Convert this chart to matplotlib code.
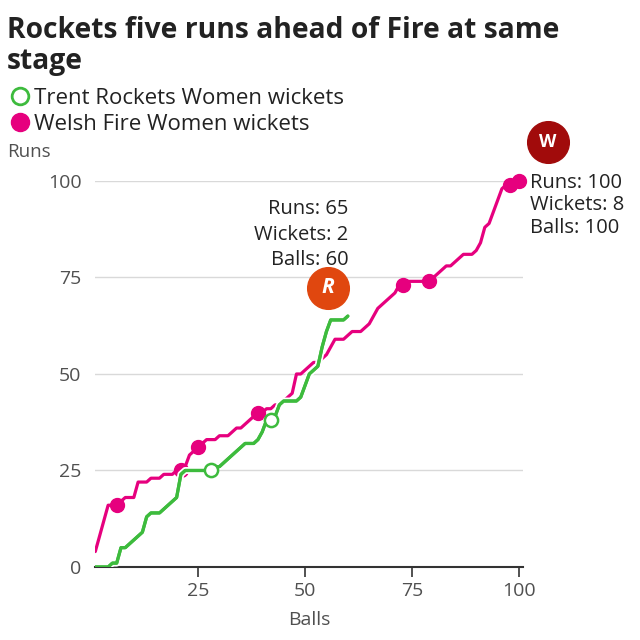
import matplotlib.pyplot as plt
import matplotlib.patheffects as pe
import numpy as np

# Welsh Fire Women innings, cumulative runs per ball
fire_balls = np.arange(1, 101)
fire_runs = [4, 8, 12, 16, 16, 16, 17, 18, 18, 18,
             22, 22, 22, 23, 23, 23, 24, 24, 24, 25,
             25, 26, 29, 30, 31, 32, 33, 33, 33, 34,
             34, 34, 35, 36, 36, 37, 38, 39, 40, 40,
             41, 41, 42, 42, 43, 44, 45, 50, 50, 51,
             52, 53, 53, 54, 55, 57, 59, 59, 59, 60,
             61, 61, 61, 62, 63, 65, 67, 68, 69, 70,
             71, 73, 73, 74, 74, 74, 74, 74, 74, 75,
             76, 77, 78, 78, 79, 80, 81, 81, 81, 82,
             84, 88, 89, 92, 95, 98, 99, 99, 100, 100]
fire_wkt_balls = [6, 21, 25, 39, 73, 79, 98, 100]

# Trent Rockets Women innings so far
rockets_balls = np.arange(1, 61)
rockets_runs = [0, 0, 0, 0, 1, 1, 5, 5, 6, 7,
                8, 9, 13, 14, 14, 14, 15, 16, 17, 18,
                24, 25, 25, 25, 25, 25, 25, 25, 26, 26,
                27, 28, 29, 30, 31, 32, 32, 32, 33, 35,
                38, 38, 39, 42, 43, 43, 43, 43, 44, 47,
                50, 51, 52, 57, 61, 64, 64, 64, 64, 65]
rockets_wkt_balls = [28, 42]

pink = '#e6007e'
green = '#3dbb3d'
grey = '#505050'

fire_wkt_runs = [fire_runs[b - 1] for b in fire_wkt_balls]
rockets_wkt_runs = [rockets_runs[b - 1] for b in rockets_wkt_balls]

plt.rcParams['font.family'] = ['Open Sans', 'DejaVu Sans']

fig = plt.figure(figsize=(6.4, 6.4), dpi=100)
ax = fig.add_axes([0.1489, 0.1141, 0.6688, 0.6031])

ax.plot(fire_balls, fire_runs, color=pink, lw=2.3, zorder=3, solid_capstyle='round')
ax.plot(fire_wkt_balls, fire_wkt_runs, 'o', color=pink, ms=10, zorder=4, clip_on=False)
ax.plot(rockets_balls, rockets_runs, color=green, lw=2.3, zorder=5, solid_capstyle='round',
        path_effects=[pe.withStroke(linewidth=5, foreground='white'), pe.Normal()])
ax.plot(rockets_wkt_balls, rockets_wkt_runs, 'o', mfc='white', mec=green, mew=1.8,
        ms=9.5, zorder=6)

ax.set_xlim(1, 101)
ax.set_ylim(0, 100)
ax.set_xticks([25, 50, 75, 100])
ax.set_yticks([0, 25, 50, 75, 100])
ax.grid(axis='y', color='#d9d9d9', lw=1)
ax.set_axisbelow(True)
for s in ['top', 'right', 'left']:
    ax.spines[s].set_visible(False)
ax.spines['bottom'].set_color('#333333')
ax.spines['bottom'].set_linewidth(1.5)
ax.tick_params(axis='x', length=7, width=1.2, color='#333333', labelsize=14,
               labelcolor=grey, pad=4)
ax.tick_params(axis='y', length=0, labelsize=14, labelcolor=grey, pad=10)
ax.set_xlabel('Balls', fontsize=14, color=grey, labelpad=8)

# annotations
ax.text(60.2, 77.0, 'Runs: 65\nWickets: 2\nBalls: 60', ha='right', va='bottom',
        fontsize=14.5, color='#222222', linespacing=1.35, zorder=7,
        bbox=dict(facecolor='white', edgecolor='none', pad=1))
ax.plot([55.4], [72.3], 'o', ms=30, color='#e0470f', zorder=7, clip_on=False)
ax.text(55.4, 72.3, 'R', ha='center', va='center', fontsize=15, color='white',
        fontweight='bold', fontstyle='italic', zorder=8)
ax.text(102.5, 102.2, 'Runs: 100\nWickets: 8\nBalls: 100', ha='left', va='top',
        fontsize=14.5, color='#222222', linespacing=1.18, clip_on=False)
ax.plot([106.8], [110], 'o', ms=30, color='#a10b0b', zorder=7, clip_on=False)
ax.text(106.8, 110, 'W', ha='center', va='center', fontsize=13, color='white',
        fontweight='bold', zorder=8, clip_on=False)

fig.text(0.011, 0.975, 'Rockets five runs ahead of Fire at same\nstage', fontsize=20.3,
         fontweight='bold', color='#222222', va='top', linespacing=1.08)
fig.text(0.011, 0.762, 'Runs', fontsize=13.5, color=grey, va='center')

# legend
fig.lines.append(plt.Line2D([20 / 640], [1 - 96 / 640], marker='o', ms=12, mfc='white',
                            mec=green, mew=2, transform=fig.transFigure))
fig.lines.append(plt.Line2D([20 / 640], [1 - 122 / 640], marker='o', ms=13, color=pink,
                            transform=fig.transFigure))
fig.text(34 / 640, 1 - 98 / 640, 'Trent Rockets Women wickets', fontsize=16,
         color='#222222', va='center')
fig.text(34 / 640, 1 - 124 / 640, 'Welsh Fire Women wickets', fontsize=16,
         color='#222222', va='center')

plt.savefig('out.png')
